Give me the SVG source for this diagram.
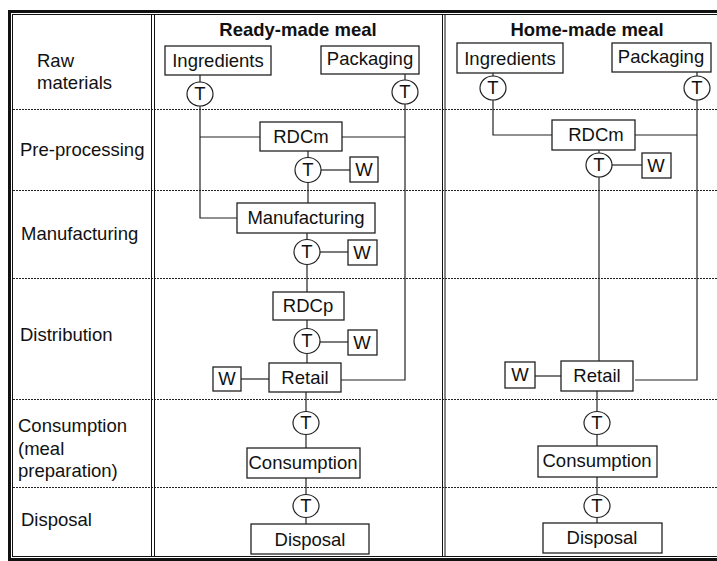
<svg xmlns="http://www.w3.org/2000/svg" width="717" height="561" viewBox="0 0 717 561">
<style>
text{font-family:"Liberation Sans",Arial,sans-serif;font-size:18.5px;fill:#111}
.h{font-weight:bold}
.c{text-anchor:middle}
.box{fill:#fff;stroke:#222;stroke-width:1.3}
.t{fill:#fff;stroke:#222;stroke-width:1.2}
.ln{fill:none;stroke:#222;stroke-width:1.2}
.dash{stroke:#222;stroke-width:1;stroke-dasharray:2 1}
.bd{stroke:#111;fill:none}
</style>
<rect width="717" height="561" fill="#fff"/>
<g id="frame">
<line class="dash" x1="13" y1="109.5" x2="717" y2="109.5"/>
<line class="dash" x1="13" y1="190.5" x2="717" y2="190.5"/>
<line class="dash" x1="13" y1="278.5" x2="717" y2="278.5"/>
<line class="dash" x1="13" y1="399.5" x2="717" y2="399.5"/>
<line class="dash" x1="13" y1="487.5" x2="717" y2="487.5"/>
<line class="bd" x1="8" y1="11.5" x2="717" y2="11.5" stroke-width="3"/>
<line class="bd" x1="12" y1="14.5" x2="717" y2="14.5" stroke-width="1"/>
<line class="bd" x1="9.5" y1="10" x2="9.5" y2="561" stroke-width="3"/>
<line class="bd" x1="12.5" y1="14" x2="12.5" y2="557" stroke-width="1"/>
<line class="bd" x1="12" y1="556.5" x2="717" y2="556.5" stroke-width="1"/>
<line class="bd" x1="8" y1="559.5" x2="717" y2="559.5" stroke-width="3"/>
<line class="bd" x1="151.5" y1="14" x2="151.5" y2="557" stroke-width="1"/>
<line class="bd" x1="154.5" y1="14" x2="154.5" y2="557" stroke-width="1"/>
<line class="bd" x1="442.5" y1="14" x2="442.5" y2="557" stroke-width="1"/>
<line class="bd" x1="445" y1="14" x2="445" y2="557" stroke-width="1"/>
</g>
<g id="labels">
<text class="h c" x="298" y="36">Ready-made meal</text>
<text class="h c" x="587" y="36">Home-made meal</text>
<text x="37" y="67">Raw</text>
<text x="37" y="89">materials</text>
<text x="20" y="156">Pre-processing</text>
<text x="21" y="240">Manufacturing</text>
<text x="20" y="341">Distribution</text>
<text x="18" y="432">Consumption</text>
<text x="18" y="455">(meal</text>
<text x="18" y="477">preparation)</text>
<text x="21" y="526">Disposal</text>
</g>
<g id="connectors">
<polyline class="ln" points="200,75 200,218 237,218"/>
<line class="ln" x1="200" y1="137" x2="260" y2="137"/>
<polyline class="ln" points="405,74 405,380 341,380"/>
<line class="ln" x1="342" y1="137" x2="405" y2="137"/>
<line class="ln" x1="308" y1="151" x2="308" y2="203"/>
<line class="ln" x1="321" y1="170" x2="350" y2="170"/>
<line class="ln" x1="307" y1="233" x2="307" y2="292"/>
<line class="ln" x1="320" y1="252" x2="348" y2="252"/>
<line class="ln" x1="307" y1="320" x2="307" y2="363"/>
<line class="ln" x1="320" y1="342" x2="348" y2="342"/>
<line class="ln" x1="241" y1="379" x2="269" y2="379"/>
<line class="ln" x1="306" y1="392" x2="306" y2="448"/>
<line class="ln" x1="306" y1="478" x2="306" y2="524"/>
<polyline class="ln" points="493,73 493,135 552,135"/>
<polyline class="ln" points="697,72 697,380 635,380"/>
<line class="ln" x1="635" y1="135" x2="697" y2="135"/>
<line class="ln" x1="599" y1="150" x2="599" y2="361"/>
<line class="ln" x1="612" y1="165" x2="642" y2="165"/>
<line class="ln" x1="535" y1="376" x2="561" y2="376"/>
<line class="ln" x1="597" y1="391" x2="597" y2="446"/>
<line class="ln" x1="597" y1="477" x2="597" y2="523"/>
</g>
<g id="rm-ingredients"><rect class="box" x="165" y="46" width="106" height="29"/><text class="c" x="218" y="67">Ingredients</text></g>
<g id="rm-packaging"><rect class="box" x="321" y="46" width="98" height="28"/><text class="c" x="370" y="65">Packaging</text></g>
<g id="rm-t1"><ellipse class="t" cx="200" cy="94" rx="13" ry="12"/><text class="c" x="200" y="100">T</text></g>
<g id="rm-t2"><ellipse class="t" cx="405" cy="92" rx="13" ry="12"/><text class="c" x="405" y="98">T</text></g>
<g id="rm-rdcm"><rect class="box" x="260" y="122" width="82" height="29"/><text class="c" x="301" y="143">RDCm</text></g>
<g id="rm-t3"><ellipse class="t" cx="308" cy="170" rx="13" ry="12.5"/><text class="c" x="308" y="176">T</text></g>
<g id="rm-w1"><rect class="box" x="350" y="157" width="28" height="25"/><text class="c" x="364" y="176">W</text></g>
<g id="rm-manufacturing"><rect class="box" x="237" y="203" width="138" height="30"/><text class="c" x="306" y="224">Manufacturing</text></g>
<g id="rm-t4"><ellipse class="t" cx="307" cy="252" rx="13" ry="12.5"/><text class="c" x="307" y="258">T</text></g>
<g id="rm-w2"><rect class="box" x="348" y="240" width="29" height="25"/><text class="c" x="362" y="259">W</text></g>
<g id="rm-rdcp"><rect class="box" x="273" y="292" width="71" height="28"/><text class="c" x="308" y="312">RDCp</text></g>
<g id="rm-t5"><ellipse class="t" cx="307" cy="341" rx="13" ry="12.5"/><text class="c" x="307" y="347">T</text></g>
<g id="rm-w3"><rect class="box" x="348" y="330" width="29" height="25"/><text class="c" x="362" y="349">W</text></g>
<g id="rm-w4"><rect class="box" x="213" y="367" width="28" height="24"/><text class="c" x="227" y="385">W</text></g>
<g id="rm-retail"><rect class="box" x="269" y="363" width="72" height="29"/><text class="c" x="305" y="384">Retail</text></g>
<g id="rm-t6"><ellipse class="t" cx="306" cy="423" rx="13" ry="11.5"/><text class="c" x="306" y="429">T</text></g>
<g id="rm-consumption"><rect class="box" x="247" y="448" width="113" height="30"/><text class="c" x="303" y="469">Consumption</text></g>
<g id="rm-t7"><ellipse class="t" cx="306" cy="506" rx="13" ry="11.5"/><text class="c" x="306" y="512">T</text></g>
<g id="rm-disposal"><rect class="box" x="251" y="524" width="118" height="30"/><text class="c" x="310" y="546">Disposal</text></g>
<g id="hm-ingredients"><rect class="box" x="457" y="43" width="106" height="30"/><text class="c" x="510" y="65">Ingredients</text></g>
<g id="hm-packaging"><rect class="box" x="612" y="43" width="99" height="29"/><text class="c" x="661" y="63">Packaging</text></g>
<g id="hm-t1"><ellipse class="t" cx="493" cy="88" rx="13" ry="12"/><text class="c" x="493" y="94">T</text></g>
<g id="hm-t2"><ellipse class="t" cx="697" cy="88" rx="13" ry="12"/><text class="c" x="697" y="94">T</text></g>
<g id="hm-rdcm"><rect class="box" x="552" y="120" width="83" height="30"/><text class="c" x="596" y="141">RDCm</text></g>
<g id="hm-t3"><ellipse class="t" cx="599" cy="165" rx="13" ry="12"/><text class="c" x="599" y="171">T</text></g>
<g id="hm-w1"><rect class="box" x="642" y="153" width="29" height="25"/><text class="c" x="656" y="172">W</text></g>
<g id="hm-w2"><rect class="box" x="505" y="362" width="30" height="26"/><text class="c" x="520" y="381">W</text></g>
<g id="hm-retail"><rect class="box" x="561" y="361" width="72" height="30"/><text class="c" x="597" y="382">Retail</text></g>
<g id="hm-t4"><ellipse class="t" cx="597" cy="423" rx="13" ry="11.5"/><text class="c" x="597" y="429">T</text></g>
<g id="hm-consumption"><rect class="box" x="538" y="446" width="119" height="31"/><text class="c" x="597" y="467">Consumption</text></g>
<g id="hm-t5"><ellipse class="t" cx="597" cy="506" rx="13" ry="11.5"/><text class="c" x="597" y="512">T</text></g>
<g id="hm-disposal"><rect class="box" x="543" y="523" width="119" height="30"/><text class="c" x="602" y="544">Disposal</text></g>
</svg>
